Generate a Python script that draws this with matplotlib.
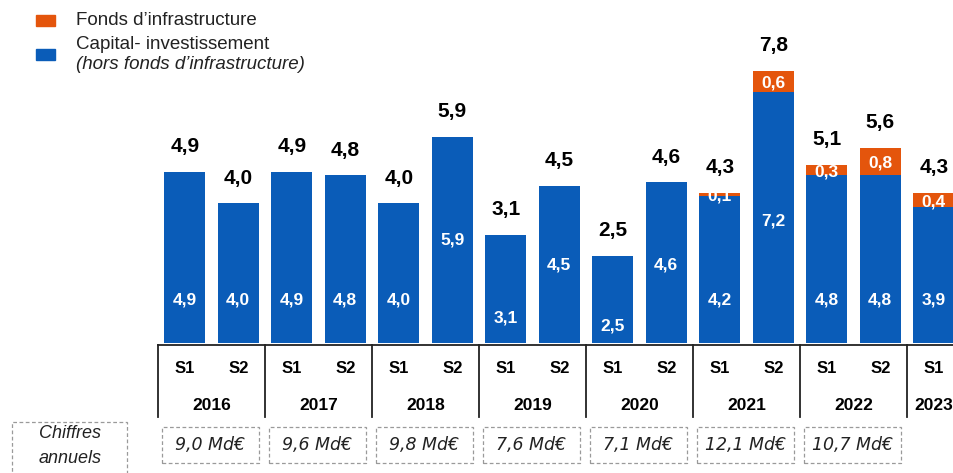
import numpy as np
import matplotlib.pyplot as plt
from matplotlib.patches import Rectangle

plt.rcParams['font.family'] = ['Liberation Sans', 'DejaVu Sans']

# data
years = ["2016", "2017", "2018", "2019", "2020", "2021", "2022", "2023"]
halves = ["S1", "S2"] * 7 + ["S1"]
pe_values = [4.9, 4.0, 4.9, 4.8, 4.0, 5.9, 3.1, 4.5, 2.5, 4.6, 4.2, 7.2, 4.8, 4.8, 3.9]
infra_values = [0, 0, 0, 0, 0, 0, 0, 0, 0, 0, 0.1, 0.6, 0.3, 0.8, 0.4]
annual_totals = ["9,0 Md€", "9,6 Md€", "9,8 Md€", "7,6 Md€", "7,1 Md€", "12,1 Md€", "10,7 Md€"]

# layout: where the white label sits inside each blue bar
pe_label_y = [1.23, 1.23, 1.23, 1.23, 1.23, 2.95, 0.72, 2.23, 0.49, 2.23,
              1.23, 3.5, 1.23, 1.23, 1.23]

BLUE = "#0A5CB8"
ORANGE = "#E4550C"

def fmt(v):
    return f"{v:.1f}".replace(".", ",")

fig = plt.figure(figsize=(9.54, 4.73), dpi=100)
ax = fig.add_axes([0, 0, 1, 1])
ax.set_xlim(-3.453, 14.379)
ax.set_ylim(-3.725, 9.828)
ax.axis("off")

x = np.arange(len(pe_values))
pe = np.array(pe_values)
infra = np.array(infra_values)
w = 0.77

ax.bar(x, pe, width=w, color=BLUE, zorder=2)
ax.bar(x, infra, width=w, bottom=pe, color=ORANGE, zorder=2)

for i in x:
    total = pe[i] + infra[i]
    ax.text(i, total + 0.72, fmt(total), ha="center", va="center",
            fontsize=15, fontweight="bold", color="black")
    ax.text(i, pe_label_y[i], fmt(pe[i]), ha="center", va="center",
            fontsize=12.5, fontweight="bold", color="white", zorder=3)
    if infra[i] > 0:
        ax.text(i, pe[i] + infra[i] / 2 - 0.05, fmt(infra[i]), ha="center", va="center",
                fontsize=12.5, fontweight="bold", color="white", zorder=3)
    ax.text(i, -0.745, halves[i], ha="center", va="center",
            fontsize=12, fontweight="bold")

# category table
ax.plot([-0.5, 14.379], [-0.05, -0.05], color="#222222", lw=1.3, clip_on=False)
for k, yr in enumerate(years):
    left = 2 * k - 0.5
    ax.plot([left, left], [-0.05, -2.12], color="#222222", lw=1.3)
    center = left + 1 if k < 7 else left + 0.5
    ax.text(center, -1.78, yr, ha="center", va="center", fontsize=12.5, fontweight="bold")
    if k < len(annual_totals):
        ax.add_patch(Rectangle((left + 0.075, -3.44), 1.81, 1.03, fill=False,
                               ec="#9a9a9a", lw=0.9, ls=(0, (3, 2))))
        ax.text(left + 0.98, -2.92, annual_totals[k], ha="center", va="center",
                fontsize=12.5, style="italic", color="#222222", family="DejaVu Sans")

ax.add_patch(Rectangle((-3.23, -3.95), 2.15, 1.69, fill=False,
                       ec="#9a9a9a", lw=0.9, ls=(0, (3, 2)), clip_on=False))
ax.text(-2.15, -2.60, "Chiffres", ha="center", va="center", fontsize=13,
        style="italic", color="#222222")
ax.text(-2.15, -3.30, "annuels", ha="center", va="center", fontsize=13,
        style="italic", color="#222222")

# legend
ax.add_patch(Rectangle((-2.78, 9.08), 0.36, 0.32, color=ORANGE))
ax.add_patch(Rectangle((-2.78, 8.11), 0.36, 0.32, color=BLUE))
ax.text(-2.03, 9.25, "Fonds d\u2019infrastructure", ha="left", va="center",
        fontsize=13.5, color="#222222")
ax.text(-2.03, 8.55, "Capital- investissement", ha="left", va="center",
        fontsize=13.5, color="#222222")
ax.text(-2.03, 7.97, "(hors fonds d\u2019infrastructure)", ha="left", va="center",
        fontsize=13.5, style="italic", color="#222222")

fig.savefig("out.png", dpi=100)
